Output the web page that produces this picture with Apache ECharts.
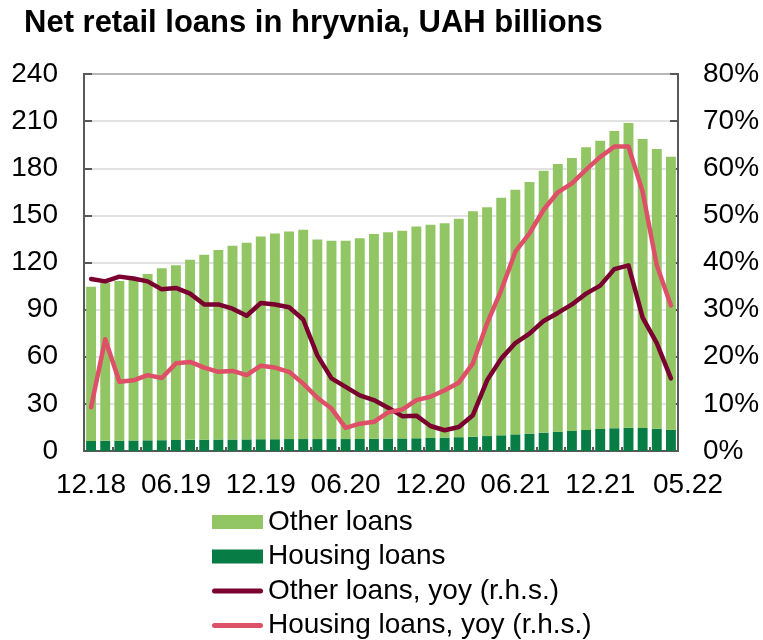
<!DOCTYPE html>
<html>
<head>
<meta charset="utf-8">
<title>Net retail loans in hryvnia</title>
<script src="https://cdn.jsdelivr.net/npm/echarts@6/dist/echarts.min.js"></script>
<style>
  html, body { margin: 0; padding: 0; background: #fff; }
  #chart { width: 763px; height: 640px; }
</style>
</head>
<body>
<div id="chart"></div>
<script>
// Monthly periods, Dec 2018 – May 2022 (MM.YY)
const months = [
  '12.18',
  '01.19','02.19','03.19','04.19','05.19','06.19','07.19','08.19','09.19','10.19','11.19','12.19',
  '01.20','02.20','03.20','04.20','05.20','06.20','07.20','08.20','09.20','10.20','11.20','12.20',
  '01.21','02.21','03.21','04.21','05.21','06.21','07.21','08.21','09.21','10.21','11.21','12.21',
  '01.22','02.22','03.22','04.22','05.22'
];

// Stocks, UAH billions
const otherLoans = [
  98.1, 100.5, 101.6, 102.8, 105.8, 109.5, 111.3, 114.6, 117.7, 120.6, 123.3, 125.1,
  129.1, 131.0, 132.2, 133.2, 127.1, 126.2, 126.2, 127.8, 130.4, 131.3, 132.2, 134.8,
  135.8, 136.5, 139.1, 143.5, 145.7, 151.2, 155.7, 160.1, 166.7, 170.4, 173.7, 179.9,
  183.5, 189.2, 194.0, 183.9, 178.0, 173.7
];
const housingLoans = [
  6.4, 6.5, 6.6, 6.7, 6.8, 6.9, 7.0, 7.1, 7.2, 7.3, 7.3, 7.4,
  7.5, 7.5, 7.6, 7.6, 7.6, 7.6, 7.6, 7.7, 7.8, 7.9, 8.0, 8.1,
  8.3, 8.5, 8.8, 9.1, 9.5, 10.0, 10.6, 11.1, 11.7, 12.3, 12.8, 13.4,
  14.0, 14.5, 14.8, 14.7, 14.2, 13.6
];

// Year-on-year growth, %
const otherYoy = [
  36.5, 36.0, 37.0, 36.6, 36.0, 34.3, 34.6, 33.4, 31.1, 31.1, 30.2, 28.7,
  31.4, 31.1, 30.5, 27.9, 20.3, 15.4, 13.6, 11.8, 10.8, 9.2, 7.4, 7.5,
  5.3, 4.4, 5.1, 7.6, 15.0, 19.6, 22.9, 24.9, 27.6, 29.3, 31.1, 33.4,
  35.1, 38.6, 39.4, 28.3, 22.9, 15.4
];
const housingYoy = [
  9.3, 23.7, 14.7, 15.0, 16.1, 15.5, 18.6, 18.9, 17.7, 16.8, 17.0, 16.1,
  18.1, 17.7, 16.8, 14.3, 11.3, 9.0, 4.9, 5.8, 6.2, 8.2, 8.8, 10.8,
  11.5, 12.9, 14.5, 18.6, 27.1, 34.1, 42.3, 46.2, 51.2, 54.9, 56.8, 59.7,
  62.4, 64.6, 64.6, 55.0, 39.4, 30.9
];

// Axis scales
const leftTicks = { min: 0, max: 240, interval: 30 };
const rightTicks = { min: 0, max: 80, interval: 10 };

const FONT = "'Liberation Sans', Arial, sans-serif";
const AXIS_COLOR = '#595959';
const lastIdx = months.length - 1;

// Rounded bar used as the legend key for the line series
const LINE_KEY = 'path://M2.5,0 L48.5,0 A2.5,2.5 0 0 1 48.5,5 L2.5,5 A2.5,2.5 0 0 1 2.5,0 Z';

const chart = echarts.init(document.getElementById('chart'), null, { renderer: 'canvas' });

chart.setOption({
  animation: false,
  backgroundColor: '#ffffff',
  textStyle: { fontFamily: FONT, color: '#000' },
  title: {
    text: 'Net retail loans in hryvnia, UAH billions',
    left: 24,
    top: 8,
    padding: 0,
    textStyle: { fontFamily: FONT, fontSize: 31, fontWeight: 'bold', color: '#000' }
  },
  legend: {
    orient: 'vertical',
    left: 212,
    top: 508,
    padding: 0,
    itemWidth: 51,
    itemHeight: 14,
    itemGap: 6.5,
    symbolKeepAspect: true,
    textStyle: { fontFamily: FONT, fontSize: 28, color: '#000', lineHeight: 28 },
    data: [
      { name: 'Other loans', icon: 'rect' },
      { name: 'Housing loans', icon: 'rect' },
      { name: 'Other loans, yoy (r.h.s.)', icon: LINE_KEY },
      { name: 'Housing loans, yoy (r.h.s.)', icon: LINE_KEY }
    ]
  },
  grid: {
    left: 84,
    right: 85,
    top: 74,
    bottom: 189,
    show: true,
    borderColor: AXIS_COLOR,
    borderWidth: 2,
    containLabel: false
  },
  xAxis: {
    type: 'category',
    data: months,
    boundaryGap: true,
    axisLine: { show: true, lineStyle: { color: AXIS_COLOR, width: 2 } },
    axisTick: {
      show: true,
      inside: true,
      length: 4,
      interval: 1,
      lineStyle: { color: AXIS_COLOR, width: 2 }
    },
    axisLabel: {
      interval: (i) => i % 6 === 0 || i === lastIdx,
      margin: 20,
      fontFamily: FONT,
      fontSize: 28,
      color: '#000',
      formatter: (v, i) => (i === lastIdx ? '{e|' + v + '}' : v),
      rich: { e: { fontFamily: FONT, fontSize: 28, color: '#000', padding: [0, 0, 0, 34] } }
    },
    splitLine: { show: false }
  },
  yAxis: [
    {
      type: 'value',
      min: leftTicks.min,
      max: leftTicks.max,
      interval: leftTicks.interval,
      axisLine: { show: true, lineStyle: { color: AXIS_COLOR, width: 2 } },
      axisTick: { show: true, inside: true, length: 8, lineStyle: { color: AXIS_COLOR, width: 2 } },
      axisLabel: { margin: 26, fontFamily: FONT, fontSize: 28, color: '#000' },
      splitLine: { show: true, lineStyle: { color: '#d9d9d9', width: 1.5 } }
    },
    {
      type: 'value',
      position: 'right',
      min: rightTicks.min,
      max: rightTicks.max,
      interval: rightTicks.interval,
      axisLine: { show: true, lineStyle: { color: AXIS_COLOR, width: 2 } },
      axisTick: { show: true, inside: true, length: 8, lineStyle: { color: AXIS_COLOR, width: 2 } },
      axisLabel: { margin: 25, fontFamily: FONT, fontSize: 28, color: '#000', formatter: '{value}%' },
      splitLine: { show: false }
    }
  ],
  series: [
    {
      name: 'Housing loans',
      type: 'bar',
      stack: 'loans',
      yAxisIndex: 0,
      barWidth: '70%',
      itemStyle: { color: '#077d45' },
      data: housingLoans,
      z: 2
    },
    {
      name: 'Other loans',
      type: 'bar',
      stack: 'loans',
      yAxisIndex: 0,
      barWidth: '70%',
      itemStyle: { color: '#92c664' },
      data: otherLoans,
      z: 2
    },
    {
      name: 'Other loans, yoy (r.h.s.)',
      type: 'line',
      yAxisIndex: 1,
      symbol: 'none',
      smooth: false,
      lineStyle: { color: '#7a0030', width: 4.5, cap: 'round', join: 'round' },
      itemStyle: { color: '#7a0030' },
      data: otherYoy,
      z: 4
    },
    {
      name: 'Housing loans, yoy (r.h.s.)',
      type: 'line',
      yAxisIndex: 1,
      symbol: 'none',
      smooth: false,
      lineStyle: { color: '#de5068', width: 4.5, cap: 'round', join: 'round' },
      itemStyle: { color: '#de5068' },
      data: housingYoy,
      z: 5
    }
  ]
});
</script>
</body>
</html>
